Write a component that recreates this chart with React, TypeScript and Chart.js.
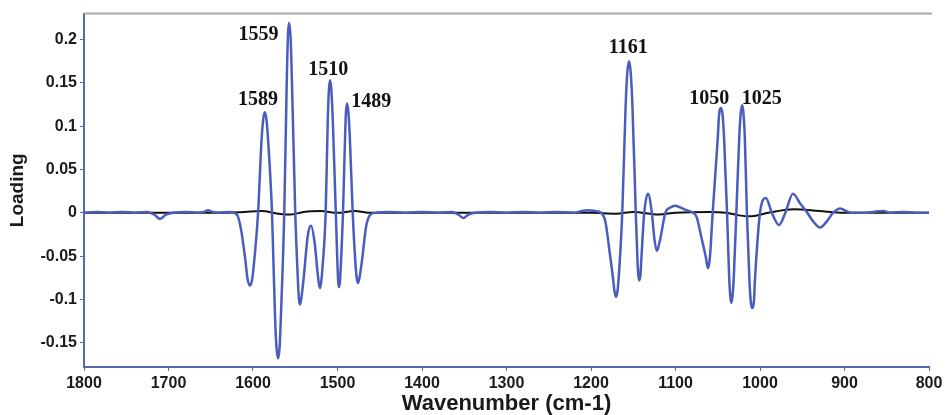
import React, { useEffect, useRef } from "react";
import { Chart, registerables } from "chart.js";

Chart.register(...registerables);

// Blue loading curve (wavenumber cm-1, loading)
const wavenumbers = [
  1800, 1785, 1770, 1755, 1740, 1725, 1717, 1710, 1703, 1695, 1680, 1665, 1658, 1653, 1648, 1640, 1628,
  1619, 1614, 1609, 1606.5, 1603.6, 1601.2, 1599, 1594, 1590, 1588, 1586, 1584, 1582, 1577.5, 1574, 1572.2,
  1570.4, 1568.5, 1567, 1563, 1560, 1558.8, 1557.4, 1555.5, 1554, 1550, 1547, 1545.8, 1544.4, 1543, 1540,
  1535, 1531.3, 1527, 1523.5, 1522, 1520.7, 1519.3, 1517.5, 1514, 1511.5, 1510.2, 1508.9, 1507.2, 1505.5,
  1502, 1499.2, 1498.2, 1497.1, 1496, 1493.5, 1491, 1490, 1488.8, 1487.1, 1485.5, 1482, 1479, 1477.3, 1475.7,
  1474, 1471, 1466, 1461, 1455, 1440, 1420, 1400, 1380, 1365, 1357, 1351, 1345, 1337, 1320, 1300, 1280,
  1260, 1240, 1220, 1211, 1204, 1195, 1188, 1183, 1178, 1174, 1172.3, 1170.4, 1168.6, 1167, 1163, 1159,
  1157, 1155, 1153, 1151, 1147, 1145, 1144, 1143, 1141.5, 1140.5, 1137, 1132.5, 1128, 1125, 1122, 1118,
  1112, 1106, 1100.6, 1094, 1087, 1079, 1075, 1069, 1064, 1062.8, 1061.5, 1060.2, 1059, 1056, 1050, 1048.5,
  1046, 1044.2, 1042.5, 1039, 1036.5, 1035.2, 1034, 1032.5, 1031, 1028, 1024.5, 1022.8, 1021, 1019.6, 1018,
  1015.5, 1012.5, 1011, 1009.5, 1007.2, 1006, 1000, 993, 986, 977.5, 970, 961, 952, 944, 937, 929, 921,
  913.6, 905, 898, 891, 875, 866, 854, 846, 830, 815, 800,
];
const loadingBlue = [
  0, 0.001, 0, 0.001, 0, 0.001, -0.002, -0.007, -0.002, 0, 0.001, 0, 0.001, 0.003, 0.001, 0, 0.001,
  -0.002, -0.02, -0.055, -0.076, -0.084, -0.078, -0.06, 0, 0.082, 0.107, 0.116, 0.107, 0.082, 0, -0.118, -0.155,
  -0.168, -0.155, -0.12, 0, 0.155, 0.202, 0.219, 0.202, 0.155, 0, -0.075, -0.098, -0.106, -0.1, -0.075,
  -0.025, -0.015, -0.035, -0.07, -0.082, -0.087, -0.08, -0.06, 0, 0.108, 0.141, 0.153, 0.141, 0.105,
  0, -0.079, -0.086, -0.079, -0.06, 0, 0.089, 0.116, 0.126, 0.116, 0.089, 0, -0.055, -0.075, -0.081,
  -0.075, -0.055, -0.015, -0.002, 0, 0.001, 0, 0.001, 0, 0.001, -0.002, -0.006, -0.002, 0, 0.001, 0, 0.001,
  0, 0.001, 0, 0.002, 0.003, 0.002, 0, -0.01, -0.045, -0.075, -0.09, -0.097, -0.09, -0.072, 0, 0.124,
  0.162, 0.175, 0.162, 0.124, 0, -0.055, -0.072, -0.078, -0.072, -0.055, 0, 0.022, 0, -0.03, -0.044, -0.03,
  0, 0.006, 0.008, 0.006, 0.003, 0, -0.005, -0.03, -0.052, -0.059, -0.064, -0.059, -0.048, 0, 0.086, 0.112,
  0.121, 0.112, 0.086, 0, -0.074, -0.096, -0.104, -0.096, -0.074, 0, 0.088, 0.115, 0.124, 0.115, 0.088,
  0, -0.078, -0.102, -0.11, -0.102, -0.078, 0, 0.017, 0, -0.014, 0, 0.022, 0.01, 0, -0.01, -0.017, -0.01,
  0, 0.005, 0.002, 0, 0, 0.001, 0.002, 0, 0.001, 0, 0,
];

// Black (near-zero) curve
const wavenumbersBlack = [
  1800, 1700, 1640, 1610, 1590, 1570, 1555, 1540, 1520, 1500, 1480, 1460, 1300, 1200, 1170, 1150, 1120,
  1100, 1060, 1040, 1025, 1010, 990, 960, 930, 900, 800,
];
const loadingBlack = [
  0, 0, 0, 0.001, 0.002, -0.001, -0.002, 0.001, 0.002, 0, 0.002, 0, 0, 0, -0.001, 0.001, -0.002,
  0, 0.001, 0, -0.003, -0.004, 0, 0.004, 0.002, 0, 0,
];

// Peak annotations (text, anchor wavenumber, anchor loading)
const peakLabels = ["1559", "1589", "1510", "1489", "1161", "1050", "1025"];
const peakLabelWn = [1593.5, 1594, 1511, 1460, 1156, 1060, 998];
const peakLabelLoading = [0.2056, 0.13, 0.1655, 0.1277, 0.19, 0.132, 0.132];

const xTickValues = [1800, 1700, 1600, 1500, 1400, 1300, 1200, 1100, 1000, 900, 800];
const yTickValues = [-0.15, -0.1, -0.05, 0, 0.05, 0.1, 0.15, 0.2];
const yTickLabels = ["-0.15", "-0.1", "-0.05", "0", "0.05", "0.1", "0.15", "0.2"];

const AXIS_COLOR = "#5868ad";
const TEXT_COLOR = "#1a1a1a";

const decorPlugin = {
  id: "decor",
  afterDatasetsDraw(chart: any) {
    const { ctx, chartArea, scales } = chart;
    ctx.save();
    // top frame line
    ctx.strokeStyle = "#a9a9a9";
    ctx.lineWidth = 2;
    ctx.beginPath();
    ctx.moveTo(chartArea.left, chartArea.top);
    ctx.lineTo(chartArea.right + 3, chartArea.top);
    ctx.stroke();
    // peak labels
    ctx.fillStyle = "#111";
    ctx.font = "bold 20px 'Liberation Serif', 'Times New Roman', serif";
    ctx.textAlign = "center";
    ctx.textBaseline = "middle";
    peakLabels.forEach((t, i) => {
      const x = scales.x.getPixelForValue(peakLabelWn[i]);
      const y = scales.y.getPixelForValue(peakLabelLoading[i]);
      ctx.fillText(t, x, y);
    });
    ctx.restore();
  },
};

export default function App() {
  const canvasRef = useRef<HTMLCanvasElement | null>(null);

  useEffect(() => {
    if (!canvasRef.current) return;
    const chart = new Chart(canvasRef.current, {
      type: "line",
      data: {
        datasets: [
          {
            label: "Loading",
            data: wavenumbers.map((x, i) => ({ x, y: loadingBlue[i] })),
            borderColor: "#4a5cbd",
            borderWidth: 2.5,
            pointRadius: 0,
            cubicInterpolationMode: "monotone",
            fill: false,
            order: 0,
          },
          {
            label: "Reference",
            data: wavenumbersBlack.map((x, i) => ({ x, y: loadingBlack[i] })),
            borderColor: "#111111",
            borderWidth: 2,
            pointRadius: 0,
            cubicInterpolationMode: "monotone",
            fill: false,
            order: 1,
          },
        ],
      },
      options: {
        animation: false,
        responsive: true,
        maintainAspectRatio: false,
        layout: { padding: { left: 0, right: 17, top: 13.5, bottom: 0 } },
        plugins: { legend: { display: false }, tooltip: { enabled: false } },
        scales: {
          x: {
            type: "linear",
            reverse: true,
            min: 800,
            max: 1800,
            afterBuildTicks: (scale: any) => {
              scale.ticks = xTickValues.map((value) => ({ value }));
            },
            afterFit: (scale: any) => {
              scale.height = 48;
            },
            grid: { drawOnChartArea: false, drawTicks: true, tickLength: 4, color: AXIS_COLOR },
            border: { display: true, color: AXIS_COLOR, width: 2 },
            ticks: {
              maxRotation: 0,
              autoSkip: false,
              padding: 3,
              color: TEXT_COLOR,
              font: { family: "'Liberation Sans', Arial, sans-serif", size: 16, weight: "bold" },
              callback: (v: any) => String(v),
            },
            title: {
              display: true,
              text: "Wavenumber (cm-1)",
              color: TEXT_COLOR,
              padding: { top: 0, bottom: 0 },
              font: { family: "'Liberation Sans', Arial, sans-serif", size: 22, weight: "bold", lineHeight: 1 },
            },
          },
          y: {
            type: "linear",
            min: -0.178,
            max: 0.23,
            afterBuildTicks: (scale: any) => {
              scale.ticks = yTickValues.map((value) => ({ value }));
            },
            afterFit: (scale: any) => {
              scale.width = 84;
            },
            grid: { drawOnChartArea: false, drawTicks: true, tickLength: 4, color: AXIS_COLOR },
            border: { display: true, color: AXIS_COLOR, width: 2 },
            ticks: {
              padding: 3,
              color: TEXT_COLOR,
              font: { family: "'Liberation Sans', Arial, sans-serif", size: 16, weight: "bold" },
              callback: (_v: any, i: number) => yTickLabels[i],
            },
            title: {
              display: true,
              text: "Loading",
              color: TEXT_COLOR,
              padding: { top: 8.5, bottom: 0 },
              font: { family: "'Liberation Sans', Arial, sans-serif", size: 19, weight: "bold", lineHeight: 1 },
            },
          },
        },
      },
      plugins: [decorPlugin],
    } as any);
    return () => chart.destroy();
  }, []);

  return (
    <div style={{ position: "absolute", left: 0, top: 0, width: 946, height: 415, background: "#fff" }}>
      <canvas ref={canvasRef} />
    </div>
  );
}
